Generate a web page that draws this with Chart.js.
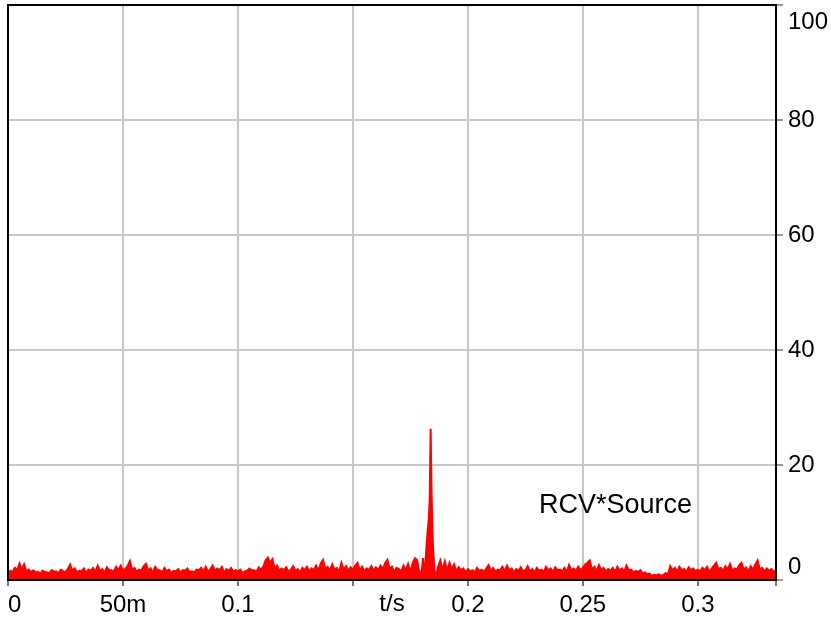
<!DOCTYPE html>
<html lang="en">
<head>
    <meta charset="UTF-8">
    <title>RCV*Source</title>
    <script src="https://cdn.jsdelivr.net/npm/chart.js@4.4.1/dist/chart.umd.min.js"></script>
    <style>
        html, body { margin: 0; padding: 0; background: #fff; }
    </style>
</head>
<body>

<canvas id="myChart" width="831" height="620"></canvas>

<script>
    // samples every 1 ms, t = 0 .. 0.334 s (null = covered by the spike arrays)
    var sampleStep = 0.001;
    var noiseValues = [
        1.3, 1.6, 1.4, 2.1, 1.7, 2.9, 1.9, 2.7, 1.5, 1.8,
        1.4, 1.7, 1.3, 1.4, 1.1, 1.6, 1.4, 1.3, 1.2, 1.7,
        1.5, 1.5, 1.2, 1.8, 1.5, 1.4, 1.9, 2.7, 1.6, 2.0,
        1.3, 1.6, 1.5, 2.0, 1.2, 1.8, 1.6, 2.1, 1.4, 2.5,
        1.6, 1.9, 1.3, 2.2, 1.7, 1.7, 1.4, 2.3, 1.7, 2.5,
        1.7, 1.9, 2.4, 3.3, 1.8, 2.1, 1.4, 1.8, 1.6, 2.4,
        2.8, 1.6, 2.0, 1.3, 2.3, 1.7, 1.7, 1.3, 2.1, 1.5,
        1.8, 1.2, 1.6, 1.5, 1.9, 1.3, 1.7, 1.6, 2.0, 1.4,
        1.5, 1.3, 1.8, 1.7, 2.1, 1.5, 2.3, 1.4, 1.9, 2.5,
        1.6, 2.0, 1.7, 2.3, 1.3, 1.9, 1.6, 2.1, 1.4, 1.7,
        1.5, 1.8, 1.2, 1.5, 1.6, 2.0, 1.7, 1.7, 1.4, 2.2,
        1.8, 2.3, 3.4, 3.9, 3.0, 3.6, 1.9, 2.5, 1.6, 2.0,
        1.7, 2.2, 1.4, 1.8, 2.4, 1.6, 1.9, 1.3, 2.1, 1.7,
        2.3, 1.5, 2.0, 1.7, 2.5, 1.6, 2.9, 3.5, 1.9, 2.3,
        1.6, 2.7, 1.8, 2.1, 1.4, 3.0, 1.8, 2.4, 1.6, 2.2,
        1.8, 2.5, 3.0, 1.7, 2.3, 1.5, 2.0, 1.7, 2.4, 1.6,
        2.2, 1.7, 2.5, 1.9, 2.9, 3.5, 1.9, 2.3, 1.4, 2.1,
        1.9, 1.5, 2.5, 1.7, 2.8, 1.4, 3.0, 3.8, 3.4, 0.8,
        1.8, null, null, null, null, null, 0.4, 2.3, 3.4, 1.7,
        3.2, 1.6, 3.0, 1.9, 2.7, 1.5, 2.2, 1.7, 2.0, 1.3,
        1.9, 1.5, 1.7, 1.3, 2.1, 1.6, 1.8, 1.4, 2.0, 2.6,
        1.6, 2.1, 1.4, 1.8, 1.7, 2.3, 1.5, 2.5, 1.7, 2.0,
        1.3, 1.9, 1.6, 2.2, 1.5, 1.7, 2.4, 1.5, 1.9, 1.3,
        2.1, 1.6, 1.8, 1.4, 2.3, 1.7, 2.0, 1.4, 2.2, 1.7,
        1.8, 1.5, 2.1, 1.4, 2.6, 1.7, 2.0, 1.6, 2.3, 1.7,
        2.1, 2.7, 3.0, 3.4, 1.8, 2.3, 1.5, 2.6, 1.7, 2.1,
        1.5, 1.9, 1.6, 2.1, 1.4, 2.3, 1.6, 2.0, 1.5, 2.5,
        1.7, 1.8, 1.3, 1.6, 1.4, 1.7, 1.1, 1.3, 1.0, 1.1,
        0.7, 0.9, 0.8, 1.0, 0.7, 0.9, 1.2, 1.0, 2.4, 1.7,
        2.1, 1.5, 2.3, 1.7, 1.9, 1.4, 2.2, 1.7, 2.0, 1.5,
        1.8, 1.5, 2.1, 1.7, 2.3, 1.4, 2.0, 2.5, 3.0, 1.8,
        2.1, 1.6, 2.4, 1.8, 2.8, 1.6, 2.0, 1.8, 2.6, 3.0,
        1.8, 2.2, 1.5, 2.4, 1.8, 2.7, 3.4, 1.8, 2.1, 1.5,
        2.0, 1.6, 1.9, 1.4, 1.7
    ];

    // the peak around t = 0.184 s, read at a finer step
    var spikeTimes  = [0.1805, 0.1810, 0.1815, 0.1820, 0.1825, 0.1830, 0.1834, 0.1838, 0.1842, 0.1846, 0.1850, 0.1855];
    var spikeValues = [3.8,    0.5,    2.8,    5.8,    8.5,    10.5,   14.0,   26.3,   15.5,   8.0,    4.5,    1.5];

    var xTickValues = [0, 0.05, 0.1, 0.15, 0.2, 0.25, 0.3, 0.334];
    var xTickLabels = ['0', '50m', '0.1', '', '0.2', '0.25', '0.3', ''];
    var yTickValues = [0, 20, 40, 60, 80, 100];
    var yTickLabels = ['0', '20', '40', '60', '80', '100'];
    var seriesName = 'RCV*Source';
    var xTitle = 't/s';

    var fontFamily = '"Liberation Sans", Arial, sans-serif';

    function buildPoints() {
        var pts = [];
        for (var i = 0; i < noiseValues.length; i++) {
            if (noiseValues[i] !== null) {
                pts.push({ x: +(i * sampleStep).toFixed(4), y: noiseValues[i] });
            }
        }
        for (var j = 0; j < spikeTimes.length; j++) {
            pts.push({ x: spikeTimes[j], y: spikeValues[j] });
        }
        pts.sort(function (a, b) { return a.x - b.x; });
        return pts;
    }

    // black frame round the plot, y labels on the right, series name
    var framePlugin = {
        id: 'frame',
        afterDatasetsDraw: function (chart) {
            var ctx = chart.ctx, a = chart.chartArea, ys = chart.scales.y;
            ctx.save();
            ctx.strokeStyle = '#000';
            ctx.lineWidth = 2;
            ctx.strokeRect(a.left, a.top, a.right - a.left, a.bottom - a.top);

            ctx.fillStyle = '#000';
            ctx.font = '24px ' + fontFamily;
            ctx.textAlign = 'left';
            ctx.textBaseline = 'middle';
            yTickValues.forEach(function (v, i) {
                var py = ys.getPixelForValue(v);
                py = Math.max(a.top + 17, Math.min(a.bottom - 13, py));
                ctx.fillText(yTickLabels[i], a.right + 12, py);
            });

            ctx.font = '27px ' + fontFamily;
            ctx.textBaseline = 'alphabetic';
            ctx.fillText(seriesName, 539, 513);
            ctx.restore();
        }
    };

    var ctx = document.getElementById('myChart').getContext('2d');
    var myChart = new Chart(ctx, {
        type: 'line',
        data: {
            datasets: [{
                label: seriesName,
                data: buildPoints(),
                borderColor: '#ff0000',
                backgroundColor: '#ff0000',
                borderWidth: 2,
                pointRadius: 0,
                tension: 0,
                fill: 'origin'
            }]
        },
        options: {
            responsive: false,
            animation: false,
            devicePixelRatio: 1,
            layout: { padding: { left: 8, top: 5, right: 0, bottom: 0 } },
            plugins: {
                legend: { display: false },
                tooltip: { enabled: false }
            },
            scales: {
                x: {
                    type: 'linear',
                    position: 'bottom',
                    min: 0,
                    max: 0.334,
                    afterBuildTicks: function (s) {
                        s.ticks = xTickValues.map(function (v) { return { value: v }; });
                    },
                    afterFit: function (s) { s.height = 40; },
                    ticks: {
                        autoSkip: false,
                        maxRotation: 0,
                        align: 'inner',
                        padding: 5,
                        color: '#000',
                        font: { family: fontFamily, size: 24 },
                        callback: function (v, i) { return xTickLabels[i]; }
                    },
                    grid: { color: '#c8c8c8', lineWidth: 2, tickLength: 6, tickColor: '#777' },
                    border: { display: false },
                    title: {
                        display: true,
                        text: xTitle,
                        color: '#000',
                        font: { family: fontFamily, size: 24 },
                        padding: { top: 0, bottom: 1 }
                    }
                },
                y: {
                    type: 'linear',
                    position: 'right',
                    min: 0,
                    max: 100,
                    afterBuildTicks: function (s) {
                        s.ticks = yTickValues.map(function (v) { return { value: v }; });
                    },
                    afterFit: function (s) { s.width = 55; },
                    ticks: { display: false },
                    grid: { color: '#c8c8c8', lineWidth: 2, tickLength: 7, tickColor: '#999' },
                    border: { display: false }
                }
            }
        },
        plugins: [framePlugin]
    });
</script>

</body>
</html>
